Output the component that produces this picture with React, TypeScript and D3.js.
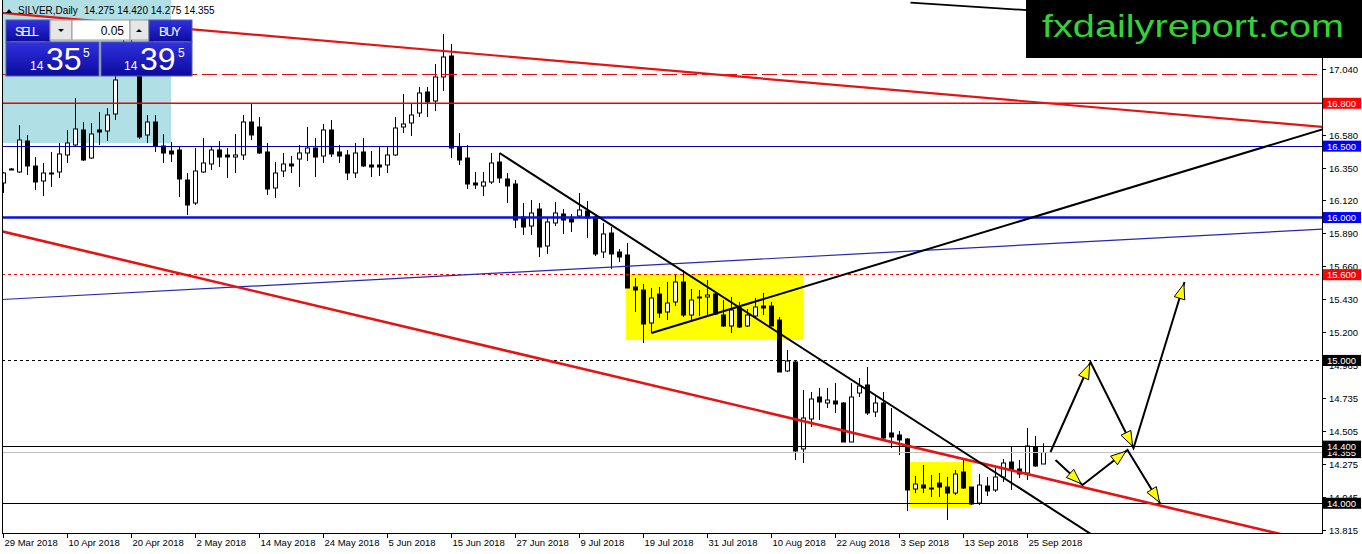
import { scaleLinear, line as d3Line } from "d3";

// daily silver candles, 29 Mar 2018 .. 27 Sep 2018 — [open, high, low, close]
const candles: [number, number, number, number][] = [
  [16.242, 16.319, 16.172, 16.312], [16.34, 16.347, 16.333, 16.338], [16.319, 16.648, 16.312, 16.543],
  [16.536, 16.578, 16.298, 16.361], [16.361, 16.424, 16.193, 16.249], [16.256, 16.382, 16.151, 16.312],
  [16.31, 16.459, 16.214, 16.312], [16.319, 16.522, 16.277, 16.445], [16.438, 16.613, 16.382, 16.522],
  [16.508, 16.837, 16.494, 16.62], [16.613, 16.669, 16.396, 16.403], [16.417, 16.662, 16.41, 16.585],
  [16.613, 16.739, 16.508, 16.599], [16.606, 16.767, 16.536, 16.718], [16.725, 17.019, 16.683, 16.963],
  [17.0, 17.34, 17.0, 17.2], [17.2, 17.25, 17.01, 17.05], [17.05, 17.1, 16.55, 16.564],
  [16.578, 16.718, 16.522, 16.669], [16.669, 16.718, 16.459, 16.501], [16.501, 16.585, 16.382, 16.452],
  [16.466, 16.529, 16.389, 16.445], [16.473, 16.501, 16.144, 16.27], [16.263, 16.312, 16.018, 16.088],
  [16.102, 16.487, 16.088, 16.326], [16.319, 16.557, 16.312, 16.382], [16.375, 16.501, 16.333, 16.473],
  [16.473, 16.536, 16.354, 16.424], [16.438, 16.487, 16.277, 16.424], [16.424, 16.585, 16.312, 16.438],
  [16.438, 16.718, 16.403, 16.669], [16.669, 16.802, 16.543, 16.578], [16.634, 16.704, 16.445, 16.452],
  [16.459, 16.522, 16.158, 16.2], [16.207, 16.389, 16.137, 16.312], [16.326, 16.452, 16.284, 16.375],
  [16.375, 16.431, 16.312, 16.361], [16.41, 16.508, 16.214, 16.452], [16.452, 16.634, 16.396, 16.487],
  [16.487, 16.557, 16.284, 16.424], [16.431, 16.655, 16.382, 16.613], [16.613, 16.683, 16.424, 16.445],
  [16.459, 16.508, 16.382, 16.431], [16.438, 16.473, 16.263, 16.312], [16.312, 16.522, 16.277, 16.452],
  [16.459, 16.557, 16.354, 16.361], [16.368, 16.466, 16.284, 16.354], [16.368, 16.501, 16.291, 16.354],
  [16.368, 16.501, 16.312, 16.438], [16.438, 16.704, 16.431, 16.627], [16.634, 16.865, 16.592, 16.655],
  [16.662, 16.795, 16.571, 16.718], [16.732, 16.914, 16.704, 16.872], [16.879, 16.914, 16.704, 16.809],
  [16.816, 17.075, 16.746, 16.984], [16.984, 17.285, 16.886, 17.124], [17.131, 17.215, 16.417, 16.487],
  [16.494, 16.592, 16.368, 16.403], [16.417, 16.508, 16.2, 16.235], [16.242, 16.319, 16.2, 16.228],
  [16.221, 16.319, 16.151, 16.249], [16.249, 16.452, 16.235, 16.382], [16.389, 16.452, 16.242, 16.277],
  [16.27, 16.312, 16.102, 16.221], [16.235, 16.263, 15.927, 15.983], [16.004, 16.102, 15.878, 15.934],
  [15.941, 16.123, 15.878, 16.032], [16.06, 16.102, 15.724, 15.794], [15.801, 16.004, 15.745, 15.969],
  [15.962, 16.109, 15.941, 16.032], [16.025, 16.06, 15.885, 15.983], [15.99, 16.025, 15.899, 15.969],
  [16.011, 16.172, 15.997, 16.053], [16.046, 16.116, 15.857, 15.997], [16.004, 16.018, 15.731, 15.745],
  [15.759, 15.962, 15.717, 15.885], [15.892, 15.934, 15.64, 15.745], [15.759, 15.78, 15.689, 15.724],
  [15.738, 15.822, 15.507, 15.507], [15.514, 15.577, 15.339, 15.493], [15.493, 15.535, 15.122, 15.255],
  [15.262, 15.507, 15.192, 15.437], [15.465, 15.514, 15.297, 15.332], [15.339, 15.549, 15.283, 15.402],
  [15.409, 15.605, 15.381, 15.549], [15.549, 15.633, 15.304, 15.318], [15.318, 15.5, 15.269, 15.423],
  [15.444, 15.493, 15.311, 15.437], [15.444, 15.563, 15.311, 15.458], [15.465, 15.479, 15.318, 15.325],
  [15.318, 15.423, 15.234, 15.241], [15.241, 15.444, 15.192, 15.353], [15.367, 15.409, 15.227, 15.234],
  [15.241, 15.36, 15.234, 15.318], [15.311, 15.437, 15.297, 15.374], [15.381, 15.472, 15.318, 15.367],
  [15.381, 15.409, 15.241, 15.241], [15.283, 15.304, 14.919, 14.919], [14.926, 15.073, 14.919, 14.996],
  [14.989, 15.003, 14.303, 14.366], [14.38, 14.793, 14.282, 14.597], [14.59, 14.779, 14.534, 14.73],
  [14.744, 14.807, 14.583, 14.709], [14.702, 14.807, 14.667, 14.723], [14.716, 14.842, 14.632, 14.695],
  [14.702, 14.709, 14.429, 14.429], [14.429, 14.842, 14.429, 14.744], [14.772, 14.877, 14.744, 14.821],
  [14.828, 14.954, 14.618, 14.632], [14.639, 14.758, 14.604, 14.702], [14.702, 14.779, 14.45, 14.457],
  [14.492, 14.667, 14.387, 14.464], [14.478, 14.506, 14.338, 14.443], [14.45, 14.457, 13.946, 14.093],
  [14.1, 14.191, 14.072, 14.135], [14.128, 14.268, 14.072, 14.107], [14.107, 14.198, 14.044, 14.1],
  [14.142, 14.212, 14.044, 14.114], [14.114, 14.184, 13.883, 14.072], [14.072, 14.233, 14.058, 14.205],
  [14.219, 14.31, 14.1, 14.107], [14.114, 14.114, 13.988, 13.995], [14.002, 14.205, 13.988, 14.128],
  [14.121, 14.184, 14.051, 14.086], [14.093, 14.247, 14.079, 14.184], [14.184, 14.31, 14.149, 14.282],
  [14.289, 14.394, 14.093, 14.233], [14.24, 14.303, 14.177, 14.205], [14.212, 14.527, 14.163, 14.401],
  [14.394, 14.471, 14.254, 14.261], [14.275, 14.42, 14.275, 14.355],
];

// one label every 8 bars
const dateLabels = [
  "29 Mar 2018", "10 Apr 2018", "20 Apr 2018", "2 May 2018", "14 May 2018", "24 May 2018",
  "5 Jun 2018", "15 Jun 2018", "27 Jun 2018", "9 Jul 2018", "19 Jul 2018", "31 Jul 2018",
  "10 Aug 2018", "22 Aug 2018", "3 Sep 2018", "13 Sep 2018", "25 Sep 2018",
];
const priceTicks = [17.04, 16.58, 16.35, 16.12, 15.89, 15.66, 15.43, 15.2, 14.965, 14.735, 14.505, 14.275, 14.045, 13.815];

// horizontal levels (labels drawn in this order, last on top)
const levelPrices = [17.0, 16.8, 16.5, 16.0, 15.6, 15.0, 14.355, 14.4, 14.0];

// trend lines as [bar index, price]
const redUpper: [number, number][] = [[-0.375, 17.434], [164.875, 16.634]];
const redLower: [number, number][] = [[-0.375, 15.906], [164.875, 13.715]];
const blueDiagonal: [number, number][] = [[-0.375, 15.426], [164.875, 15.919]];
const blackFalling: [number, number][] = [[62, 16.452], [135.5, 13.8]];
const blackRising: [number, number][] = [[81, 15.192], [164.875, 16.618]];
const blackTop: [number, number][] = [[113.375, 17.504], [128.5, 17.45]];

// consolidation boxes [bar from, price top, bar to, price bottom]
const boxes: [number, number, number, number][] = [
  [77.8, 15.605, 100, 15.143],
  [113.25, 14.289, 121, 13.974],
];

// projected path arrows, [bar index, price]
const arrowPathA: [number, number][] = [[130.875, 14.359], [135.875, 14.989], [141.25, 14.387], [147.625, 15.549]];
const arrowPathB: [number, number][] = [[131.5, 14.303], [134.875, 14.128], [140.5, 14.373], [144.625, 13.995]];

const FONT = "'Liberation Sans', Arial, sans-serif";

export default function App() {
  const W = 1362;
  const H = 554;
  const left = 2;
  const right = 1322;
  const bottom = 533;

  const x = scaleLinear().domain([0, 130]).range([3.5, 1043.5]);
  const y = scaleLinear().domain([14, 17]).range([503.29, 74.71]);

  const path = d3Line<[number, number]>()
    .x((d) => x(d[0]))
    .y((d) => y(d[1]));

  const extendTo = (pts: [number, number][], bar: number): [number, number][] => {
    const [[b1, p1], [b2, p2]] = pts;
    return [pts[0], [bar, p1 + ((p2 - p1) * (bar - b1)) / (b2 - b1)]];
  };

  const levelLook = [
    { stroke: "#d81010", width: 1, dash: "15,5", label: null },
    { stroke: "#f00000", width: 1.5, dash: undefined, label: "#ff0000" },
    { stroke: "#0000b0", width: 1, dash: undefined, label: "#0000ff" },
    { stroke: "#0a14d8", width: 2.5, dash: undefined, label: "#0000ff" },
    { stroke: "#e01010", width: 1, dash: "3,3", label: "#ff0000" },
    { stroke: "#000", width: 1, dash: "3,3", label: "#000" },
    { stroke: "#c0c0c0", width: 1, dash: undefined, label: "#000" },
    { stroke: "#000", width: 1, dash: undefined, label: "#000" },
    { stroke: "#000", width: 1, dash: undefined, label: "#000" },
  ];

  const arrowHeads = (pts: [number, number][]) =>
    pts.slice(1).map((p, i) => {
      const x0 = x(pts[i][0]);
      const y0 = y(pts[i][1]);
      const x1 = x(p[0]);
      const y1 = y(p[1]);
      const len = Math.hypot(x1 - x0, y1 - y0);
      const ux = (x1 - x0) / len;
      const uy = (y1 - y0) / len;
      const tx = x1 - ux * 2;
      const ty = y1 - uy * 2;
      const bx = tx - ux * 15;
      const by = ty - uy * 15;
      const nx = -uy * 5.5;
      const ny = ux * 5.5;
      return `${tx},${ty} ${bx + nx},${by + ny} ${bx - nx},${by - ny}`;
    });

  return (
    <svg
      width={W}
      height={H}
      viewBox={`0 0 ${W} ${H}`}
      style={{ position: "fixed", left: 0, top: 0, background: "#fff" }}
      fontFamily={FONT}
    >
      <defs>
        <clipPath id="plot">
          <rect x={left} y={0} width={right - left} height={bottom} />
        </clipPath>
        <linearGradient id="btn" x1="0" y1="0" x2="0" y2="1">
          <stop offset="0" stopColor="#3030e0" />
          <stop offset="1" stopColor="#0b0b9e" />
        </linearGradient>
      </defs>
      <rect width={W} height={H} fill="#fff" />

      <g clipPath="url(#plot)">
        {/* background objects */}
        <rect x={left} y={0} width={171 - left} height={143} fill="#b0dfe6" />
        {boxes.map(([b0, pTop, b1, pBot], i) => (
          <rect
            key={i}
            x={x(b0)}
            y={y(pTop)}
            width={x(b1) - x(b0)}
            height={y(pBot) - y(pTop)}
            fill="#ffff00"
          />
        ))}

        {/* candles */}
        {candles.map(([o, h, l, c], i) => {
          const cx = Math.round(x(i) - 0.5) + 0.5;
          const up = c > o;
          const top = y(Math.max(o, c));
          const hgt = Math.max(1, y(Math.min(o, c)) - top);
          return (
            <g key={i}>
              <line x1={cx} x2={cx} y1={y(h)} y2={y(l)} stroke="#000" strokeWidth={1} />
              <rect
                x={cx - 2}
                y={top}
                width={4}
                height={hgt}
                fill={up ? "#fff" : "#000"}
                stroke="#000"
                strokeWidth={1}
              />
            </g>
          );
        })}

        {/* horizontal levels */}
        {levelPrices.map((p, i) => {
          const look = levelLook[i];
          const yy = look.width === 1 ? Math.round(y(p) - 0.5) + 0.5 : y(p);
          return (
            <line
              key={p}
              x1={left}
              x2={right}
              y1={yy}
              y2={yy}
              stroke={look.stroke}
              strokeWidth={look.width}
              strokeDasharray={look.dash}
            />
          );
        })}

        {/* trend lines */}
        <path d={path(blueDiagonal) ?? ""} fill="none" stroke="#2626b4" strokeWidth={1.2} />
        <path d={path(redUpper) ?? ""} fill="none" stroke="#e41414" strokeWidth={2.2} />
        <path d={path(redLower) ?? ""} fill="none" stroke="#e41414" strokeWidth={2.6} />
        <path d={path(extendTo(blackFalling, 150)) ?? ""} fill="none" stroke="#000" strokeWidth={2} />
        <path d={path(blackRising) ?? ""} fill="none" stroke="#000" strokeWidth={2} />
        <path d={path(blackTop) ?? ""} fill="none" stroke="#000" strokeWidth={1.8} />

        {/* projection arrows */}
        {[arrowPathA, arrowPathB].map((pts, k) => (
          <g key={k}>
            <path d={path(pts) ?? ""} fill="none" stroke="#000" strokeWidth={2} strokeLinejoin="miter" />
            {arrowHeads(pts).map((tri, j) => (
              <polygon key={j} points={tri} fill="#ffff00" stroke="#000" strokeWidth={1} />
            ))}
          </g>
        ))}
      </g>

      {/* frame */}
      <line x1={2.5} x2={2.5} y1={0} y2={bottom + 0.5} stroke="#000" />
      <line x1={2} x2={right + 1} y1={bottom + 0.5} y2={bottom + 0.5} stroke="#000" />
      <line x1={right + 0.5} x2={right + 0.5} y1={0} y2={bottom + 1} stroke="#000" />

      {/* title */}
      <polygon points="6,13 12,13 9,9" fill="#000" />
      <text x={18} y={14} fontSize={10} fill="#000">SILVER,Daily</text>
      <text x={84} y={14} fontSize={10} fill="#000">14.275 14.420 14.275 14.355</text>

      {/* one-click trading panel */}
      <g>
        <rect x={6} y={20} width={44} height={22} fill="url(#btn)" stroke="#5a5a9a" />
        <text x={15} y={36} fontSize={12.5} fill="#fff" textLength={24}>SELL</text>
        <line x1={10} x2={46} y1={42} y2={42} stroke="#8080ff" />
        <rect x={50} y={20} width={22} height={20} fill="#e6e6e6" stroke="#9a9a9a" />
        <polygon points="58,29 64,29 61,32" fill="#000" />
        <rect x={72} y={20} width={58} height={20} fill="#fff" stroke="#9a9a9a" />
        <text x={124} y={35} fontSize={12} fill="#000" textAnchor="end">0.05</text>
        <rect x={130} y={20} width={19} height={20} fill="#e6e6e6" stroke="#9a9a9a" />
        <polygon points="136,32 142,32 139,29" fill="#000" />
        <rect x={149} y={20} width={43} height={22} fill="url(#btn)" stroke="#5a5a9a" />
        <text x={159} y={36} fontSize={12.5} fill="#fff" textLength={22}>BUY</text>
        <line x1={153} x2={189} y1={42} y2={42} stroke="#8080ff" />

        <rect x={6} y={42} width={93} height={34} fill="url(#btn)" stroke="#5a5a9a" />
        <rect x={101} y={42} width={91} height={34} fill="url(#btn)" stroke="#5a5a9a" />
        <text x={30} y={70} fontSize={12} fill="#fff">14</text>
        <text x={46} y={70} fontSize={32} fill="#fff">35</text>
        <text x={83} y={57} fontSize={12} fill="#fff">5</text>
        <text x={124} y={70} fontSize={12} fill="#fff">14</text>
        <text x={140} y={70} fontSize={32} fill="#fff">39</text>
        <text x={178} y={57} fontSize={12} fill="#fff">5</text>
      </g>

      {/* logo */}
      <rect x={1026} y={0} width={W - 1026} height={58} fill="#000" />
      <text x={1042} y={37} fontSize={32} fill="#35d235" textLength={302} lengthAdjust="spacingAndGlyphs">
        fxdailyreport.com
      </text>

      {/* right price axis */}
      {priceTicks.map((p) => {
        const yy = Math.round(y(p)) + 0.5;
        return (
          <g key={p}>
            <line x1={right} x2={right + 4} y1={yy} y2={yy} stroke="#000" />
            <text x={1329} y={yy + 3.5} fontSize={9.5} fill="#000">
              {p.toFixed(3)}
            </text>
          </g>
        );
      })}
      {levelPrices.map((p, i) => {
        const fill = levelLook[i].label;
        if (!fill) return null;
        const yy = y(p);
        return (
          <g key={`lbl-${p}`}>
            <rect x={1323} y={yy - 5.5} width={38} height={11} fill={fill} />
            <text x={1327} y={yy + 3.5} fontSize={9.5} fill="#fff">
              {p.toFixed(3)}
            </text>
          </g>
        );
      })}

      {/* bottom date axis */}
      {dateLabels.map((label, k) => {
        const xx = Math.round(x(k * 8) - 0.5) + 0.5;
        return (
          <g key={label}>
            <line x1={xx} x2={xx} y1={bottom} y2={bottom + 5} stroke="#000" />
            <text x={xx + 1} y={546} fontSize={9.5} fill="#000">
              {label}
            </text>
          </g>
        );
      })}
    </svg>
  );
}
